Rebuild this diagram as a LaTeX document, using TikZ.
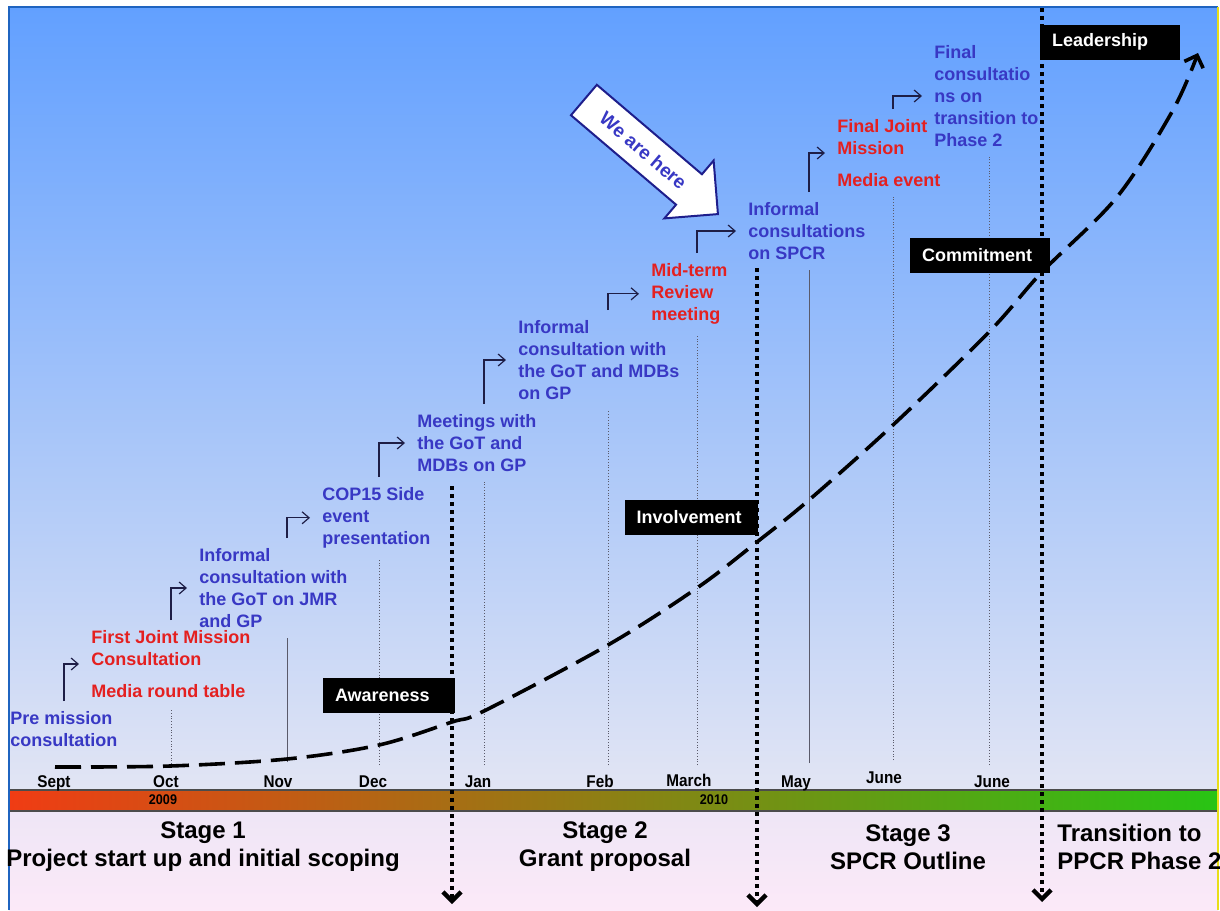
\documentclass[tikz,border=0pt]{standalone}
\usepackage{fontspec}
\setmainfont{Liberation Sans}
\newfontfamily\narrowfont[FakeStretch=0.9]{Liberation Sans}
\usetikzlibrary{positioning,arrows.meta,calc,shapes.arrows}

\definecolor{skytop}{HTML}{62A0FF}
\definecolor{skylow}{HTML}{E2E5F4}
\definecolor{floortop}{HTML}{EEE6F6}
\definecolor{floorlow}{HTML}{FCE9F8}
\definecolor{barred}{HTML}{F03C14}
\definecolor{barmid}{HTML}{C8900C}
\definecolor{bargreen}{HTML}{28C414}
\definecolor{planblue}{HTML}{3838C4}
\definecolor{meetred}{HTML}{E42020}
\definecolor{leadnavy}{HTML}{1E1E46}
\definecolor{guidegray}{HTML}{5A5A6A}
\definecolor{framblue}{HTML}{1F64C0}
\definecolor{navy}{HTML}{1E1E8C}

\begin{document}
\begin{tikzpicture}[
  x=0.5pt,y=-0.5pt,
  event/.style={anchor=north west,align=left,inner sep=0pt,
    font=\bfseries\fontsize{9}{11}\selectfont},
  plan/.style={event,text=planblue},
  meet/.style={event,text=meetred},
  month/.style={anchor=base,inner sep=0pt,
    font=\narrowfont\bfseries\fontsize{8.5}{10}\selectfont},
  year/.style={inner sep=0pt,font=\narrowfont\bfseries\fontsize{7}{8}\selectfont},
  stage/.style={align=center,inner sep=0pt,font=\bfseries\fontsize{12}{14}\selectfont},
  tag/.style={fill=black,text=white,font=\bfseries\fontsize{9}{11}\selectfont,
    minimum height=17.5pt,inner xsep=6pt,text width=#1,align=left},
  herearrow/.style={single arrow,draw=navy,line width=1pt,fill=white,text=planblue,
    font=\bfseries\fontsize{9.5}{11}\selectfont,inner sep=6pt,
    minimum height=88pt,single arrow head extend=9pt},
  guide/.style={draw=guidegray,line width=0.4pt,densely dotted,shorten >=5pt},
  lead/.style={-{Straight Barb[length=3.5pt,width=6pt]},draw=leadnavy,
    line width=0.6pt,shorten <=5pt,shorten >=6pt},
  divider/.style={line width=2.2pt,dash pattern=on 2pt off 2pt,
    -{Straight Barb[length=4.5pt,width=9pt]}},
  growth/.style={line width=1.8pt,dash pattern=on 13pt off 5pt,
    -{Straight Barb[length=5pt,width=10pt]}}
]
\useasboundingbox (0,0) rectangle (1220,910);

% background
\shade[top color=skytop,bottom color=skylow] (9,7) rectangle (1218,790);
\shade[top color=floortop,bottom color=floorlow] (9,811) rectangle (1218,910);
\shade[left color=barred,middle color=barmid,right color=bargreen] (9,790) rectangle (1218,811);
\draw[black!70,line width=0.8pt] (9,790) rectangle (1218,811);
\draw[framblue,line width=0.8pt] (9,910) -- (9,7) -- (1218,7);
\draw[yellow!90!black,line width=0.8pt] (1218,7) -- (1218,910);

% months and years
\node[month] (msep) at (54,787) {Sept};
\node[month] (moct) at (166,787) {Oct};
\node[month] (mnov) at (278,787) {Nov};
\node[month] (mdec) at (373,787) {Dec};
\node[month] (mjan) at (478,787) {Jan};
\node[month] (mfeb) at (600,787) {Feb};
\node[month] (mmar) at (689,786) {March};
\node[month] (mmay) at (796,787) {May};
\node[month] (mjun) at (884,783) {June};
\node[month] (mjul) at (992,787) {June};
\node[year] (y09) at (163,800) {2009};
\node[year] (y10) at (714,800) {2010};

% events
\node[plan] (pre) at (10,711) {Pre mission\\consultation};
\node[meet] (first) at (91,630) {First Joint Mission\\Consultation\\[5pt]Media round table};
\node[plan] (jmr) at (199,548) {Informal\\consultation with\\the GoT on JMR\\and GP};
\node[plan] (cop) at (322,487) {COP15 Side\\event\\presentation};
\node[plan] (mtg) at (417,414) {Meetings with\\the GoT and\\MDBs on GP};
\node[plan] (infgp) at (518,320) {Informal\\consultation with\\the GoT and MDBs\\on GP};
\node[meet] (mid) at (651,263) {Mid-term\\Review\\meeting};
\node[plan] (spcr) at (748,202) {Informal\\consultations\\on SPCR};
\node[meet] (fjm) at (837,119) {Final Joint\\Mission\\[5pt]Media event};
\node[plan] (fct) at (934,45) {Final\\consultatio\\ns on\\transition to\\Phase 2};

% month guides
\coordinate (goct) at (171,764);
\coordinate (gnov) at (287,762);
\coordinate (gdec) at (379,765);
\coordinate (gjan) at (484,765);
\coordinate (gfeb) at (608,765);
\coordinate (gmar) at (697,765);
\coordinate (gmay) at (809,763);
\coordinate (gjun) at (893,760);
\coordinate (gjul) at (989,765);
\coordinate (gsep) at (64,765);
\draw[guide] (goct) -- (goct |- first.south);
\draw[guide,solid] (gnov) -- (gnov |- jmr.south);
\draw[guide] (gdec) -- (gdec |- cop.south);
\draw[guide] (gjan) -- (gjan |- mtg.south);
\draw[guide] (gfeb) -- (gfeb |- infgp.south);
\draw[guide] (gmar) -- (gmar |- mid.south);
\draw[guide,solid] (gmay) -- (gmay |- spcr.south);
\draw[guide] (gjun) -- (gjun |- fjm.south);
\draw[guide] (gjul) -- (gjul |- fct.south);

% steps from one event to the next
\draw[lead] (gsep |- pre.north) |- (first.west);
\draw[lead] (goct |- first.north) |- (jmr.west);
\draw[lead] (gnov |- jmr.north) |- (cop.west);
\draw[lead] (gdec |- cop.north) |- (mtg.west);
\draw[lead] (gjan |- mtg.north) |- (infgp.west);
\draw[lead] (gfeb |- infgp.north) |- (mid.west);
\draw[lead] (gmar |- mid.north) |- (spcr.west);
\draw[lead] (gmay |- spcr.north) |- (fjm.west);
\draw[lead] (gjun |- fjm.north) |- (fct.west);

% stage dividers
\coordinate (d1top) at (452,486);
\coordinate (d1end) at (452,904);
\coordinate (d2top) at (757,268);
\coordinate (d2end) at (757,907);
\coordinate (d3top) at (1042,8);
\coordinate (d3end) at (1042,902);
\draw[divider] (d1top) -- (d1end);
\draw[divider] (d2top) -- (d2end);
\draw[divider] (d3top) -- (d3end);

% growth curve
\draw[growth] plot[smooth,tension=0.55] coordinates {(55,767) (170,766) (287,759)
  (379,745) (452,722) (484,711) (608,645) (697,588) (757,542) (809,500)
  (893,425) (989,332) (1042,272) (1117,197) (1173,110) (1198,53)};

% levels
\node[tag=54pt] (aware) at (389,695) {Awareness};
\node[tag=54.5pt] (involve) at (691,517) {Involvement};
\node[tag=58pt] (commit) at (980,255) {Commitment};
\node[tag=58pt] (leader) at (1110,42) {Leadership};

\node[herearrow,rotate=-40.4,anchor=tip] (here) at (719,215) {We are here};

% stages
\node[stage] (st1) at (203,847) {Stage 1\\Project start up and initial scoping};
\node[stage] (st2) at (605,847) {Stage 2\\Grant proposal};
\node[stage] (st3) at (908,847) {Stage 3\\SPCR Outline};
\node[stage,align=left,anchor=west] (st4) at (1057,847) {Transition to\\PPCR Phase 2};
\end{tikzpicture}
\end{document}
